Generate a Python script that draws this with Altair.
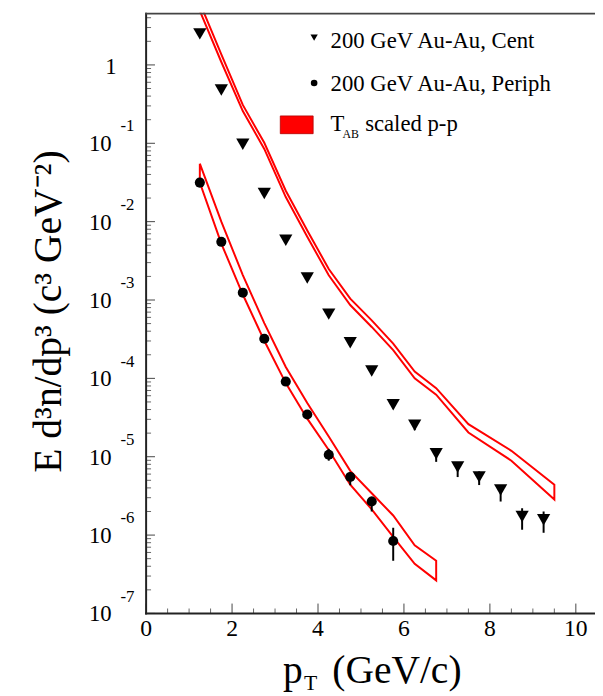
import altair as alt
import pandas as pd

# ---------------- data ----------------
cent_pt = [1.25, 1.75, 2.25, 2.75, 3.25, 3.75, 4.25, 4.75, 5.25, 5.75, 6.25, 6.75, 7.25, 7.75, 8.25, 8.75, 9.25]
cent_val = [2.49, 0.48, 0.0975, 0.0229, 5.8e-3, 1.91e-3, 6.6e-4, 2.85e-4, 1.24e-4, 4.6e-5, 2.52e-5, 1.09e-5, 7.4e-6, 5.53e-6, 3.75e-6, 1.73e-6, 1.57e-6]
cent_lo = [2.40, 0.463, 0.094, 0.0221, 5.55e-3, 1.82e-3, 6.2e-4, 2.65e-4, 1.14e-4, 4.15e-5, 2.18e-5, 8.6e-6, 5.5e-6, 4.35e-6, 2.68e-6, 1.17e-6, 1.07e-6]
cent_hi = [2.58, 0.497, 0.101, 0.0237, 6.05e-3, 2.0e-3, 7.0e-4, 3.05e-4, 1.34e-4, 5.05e-5, 2.91e-5, 1.2e-5, 8.55e-6, 6.5e-6, 4.33e-6, 2.2e-6, 2.0e-6]

per_pt = [1.25, 1.75, 2.25, 2.75, 3.25, 3.75, 4.25, 4.75, 5.25, 5.75]
per_val = [0.0315, 5.53e-3, 1.24e-3, 3.2e-4, 9.1e-5, 3.46e-5, 1.06e-5, 5.52e-6, 2.68e-6, 8.4e-7]
per_lo = [0.0303, 5.3e-3, 1.19e-3, 3.05e-4, 8.6e-5, 3.25e-5, 8.9e-6, 4.33e-6, 2.0e-6, 4.7e-7]
per_hi = [0.0327, 5.76e-3, 1.29e-3, 3.35e-4, 9.6e-5, 3.67e-5, 1.26e-5, 6.4e-6, 3.1e-6, 1.24e-6]

band_cent_pt = [1.25, 1.75, 2.25, 2.75, 3.25, 3.75, 4.25, 4.75, 5.25, 5.75, 6.25, 6.75, 7.5, 8.5, 9.5]
band_cent_hi = [6.2, 1.36, 0.309, 0.1014, 0.0248, 7.7e-3, 2.49e-3, 1.04e-3, 5.5e-4, 2.78e-4, 1.22e-4, 7.5e-5, 2.6e-5, 1.19e-5, 4.4e-6]
band_cent_lo = [4.9, 1.09, 0.258, 0.0847, 0.0206, 6.41e-3, 2.07e-3, 8.63e-4, 4.53e-4, 2.29e-4, 1.0e-4, 6.19e-5, 2.04e-5, 8.9e-6, 2.85e-6]

band_per_pt = [1.25, 1.75, 2.25, 2.75, 3.25, 3.75, 4.25, 4.75, 5.25, 5.75, 6.25, 6.75]
band_per_hi = [0.055, 0.0100, 2.08e-3, 5.07e-4, 1.40e-4, 4.84e-5, 1.81e-5, 6.6e-6, 3.42e-6, 1.78e-6, 7.4e-7, 4.7e-7]
band_per_lo = [0.0316, 5.25e-3, 1.175e-3, 3.02e-4, 8.7e-5, 3.06e-5, 1.22e-5, 4.4e-6, 2.13e-6, 9.5e-7, 4.3e-7, 2.64e-7]

y_major = [1e-7, 1e-6, 1e-5, 1e-4, 1e-3, 1e-2, 1e-1, 1.0]
y_major_base = ["10", "10", "10", "10", "10", "10", "10", "1"]
y_major_exp = ["-7", "-6", "-5", "-4", "-3", "-2", "-1", ""]
x_major = [0, 2, 4, 6, 8, 10]
x_major_text = ["0", "2", "4", "6", "8", "10"]

legend_labels = ["200 GeV Au-Au, Cent", "200 GeV Au-Au, Periph"]

# ---------------- layout constants ----------------
W, H = 453, 609
FONT = "Liberation Serif"
RED = "#ff0000"
FRAME = "#222222"

xsc = alt.Scale(domain=[0, 10.4], nice=False, zero=False)
ysc = alt.Scale(type="log", domain=[1e-7, 4.65], nice=False)


def polygon(pts, hi, lo):
    rows = []
    for p, v in zip(pts, hi):
        rows.append({"pt": p, "val": v, "idx": len(rows)})
    for p, v in zip(reversed(pts), reversed(lo)):
        rows.append({"pt": p, "val": v, "idx": len(rows)})
    rows.append({"pt": pts[0], "val": hi[0], "idx": len(rows)})
    return pd.DataFrame(rows)


def band_layer(df):
    return alt.Chart(df).mark_line(color=RED, strokeWidth=2, clip=True).encode(
        x=alt.X("pt:Q", scale=xsc, axis=None),
        y=alt.Y("val:Q", scale=ysc, axis=None),
        order=alt.Order("idx:Q"),
    )


band_c = band_layer(polygon(band_cent_pt, band_cent_hi, band_cent_lo))
band_p = band_layer(polygon(band_per_pt, band_per_hi, band_per_lo))

cent_df = pd.DataFrame({"pt": cent_pt, "val": cent_val, "lo": cent_lo, "hi": cent_hi})
per_df = pd.DataFrame({"pt": per_pt, "val": per_val, "lo": per_lo, "hi": per_hi})


def err_layer(df):
    return alt.Chart(df).mark_rule(color="black", strokeWidth=2).encode(
        x=alt.X("pt:Q", scale=xsc, axis=None),
        y=alt.Y("lo:Q", scale=ysc, axis=None),
        y2="hi:Q",
    )


cent_pts = alt.Chart(cent_df).mark_point(shape="triangle-down", filled=True, color="black", size=180, opacity=1).encode(
    x=alt.X("pt:Q", scale=xsc, axis=None),
    y=alt.Y("val:Q", scale=ysc, axis=None),
)
per_pts = alt.Chart(per_df).mark_point(shape="circle", filled=True, color="black", size=105, opacity=1).encode(
    x=alt.X("pt:Q", scale=xsc, axis=None),
    y=alt.Y("val:Q", scale=ysc, axis=None),
)

# ---------------- axes (ROOT-like, inward ticks) ----------------
y_minor = []
for d in y_major:
    for m in range(2, 10):
        v = d * m
        if v <= 4.65:
            y_minor.append(v)
x_minor = [k * 0.5 for k in range(1, 21) if (k * 0.5) not in x_major]

ytick_major = alt.Chart(pd.DataFrame({"t": y_major})).mark_rule(color="#444", strokeWidth=1).encode(
    y=alt.Y("t:Q", scale=ysc, axis=None), x=alt.value(0), x2=alt.value(9))
ytick_minor = alt.Chart(pd.DataFrame({"t": y_minor})).mark_rule(color="#666", strokeWidth=1).encode(
    y=alt.Y("t:Q", scale=ysc, axis=None), x=alt.value(0), x2=alt.value(5))
xtick_major = alt.Chart(pd.DataFrame({"t": x_major})).mark_rule(color="#444", strokeWidth=1).encode(
    x=alt.X("t:Q", scale=xsc, axis=None), y=alt.value(H), y2=alt.value(H - 10))
xtick_minor = alt.Chart(pd.DataFrame({"t": x_minor})).mark_rule(color="#666", strokeWidth=1).encode(
    x=alt.X("t:Q", scale=xsc, axis=None), y=alt.value(H), y2=alt.value(H - 5))

frame_left = alt.Chart(pd.DataFrame({"a": [0]})).mark_rule(color=FRAME, strokeWidth=2).encode(
    x=alt.value(0), y=alt.value(0), y2=alt.value(H + 1))
frame_bottom = alt.Chart(pd.DataFrame({"a": [0]})).mark_rule(color=FRAME, strokeWidth=2).encode(
    x=alt.value(-1), x2=alt.value(W + 4), y=alt.value(H))
frame_top = alt.Chart(pd.DataFrame({"a": [0]})).mark_rule(color="#444", strokeWidth=2).encode(
    x=alt.value(-1), x2=alt.value(W + 4), y=alt.value(1))

ylab_df = pd.DataFrame({"t": y_major, "base": y_major_base, "exp": y_major_exp})
ylab_10 = alt.Chart(ylab_df[ylab_df["base"] == "10"]).mark_text(
    font=FONT, fontSize=23, align="right", baseline="middle", dy=1, color="black").encode(
    y=alt.Y("t:Q", scale=ysc, axis=None), x=alt.value(-35), text="base:N")
ylab_1 = alt.Chart(ylab_df[ylab_df["base"] == "1"]).mark_text(
    font=FONT, fontSize=23, align="right", baseline="middle", dy=2, color="black").encode(
    y=alt.Y("t:Q", scale=ysc, axis=None), x=alt.value(-30), text="base:N")
ylab_exp = alt.Chart(ylab_df[ylab_df["exp"] != ""]).mark_text(
    font=FONT, fontSize=17, align="left", baseline="middle", dy=-17, color="black").encode(
    y=alt.Y("t:Q", scale=ysc, axis=None), x=alt.value(-26), text="exp:N")

xlab = alt.Chart(pd.DataFrame({"t": x_major, "s": x_major_text})).mark_text(
    font=FONT, fontSize=24, align="center", baseline="alphabetic", color="black").encode(
    x=alt.X("t:Q", scale=xsc, axis=None), y=alt.value(H + 23), text="s:N")

# ---------------- titles ----------------
def txt(s, x, y, size, align="left", baseline="alphabetic", angle=0):
    return alt.Chart(pd.DataFrame({"s": [s]})).mark_text(
        font=FONT, fontSize=size, align=align, baseline=baseline, angle=angle, color="black").encode(
        x=alt.value(x), y=alt.value(y), text="s:N")

ytitle = txt("E d\u00b3n/dp\u00b3 (c\u00b3 GeV\u207b\u00b2)", -86, 303, 40, align="center", angle=270)
xt_p = txt("p", 138.7, 680, 40)
xt_T = txt("T", 160, 687, 22)
xt_rest = txt("(GeV/c)", 188.7, 680, 40)

# ---------------- legend ----------------
leg_tri = alt.Chart(pd.DataFrame({"a": [0]})).mark_point(
    shape="triangle-down", filled=True, color="black", size=55, opacity=1).encode(
    x=alt.value(170.3), y=alt.value(25.3))
leg_circ = alt.Chart(pd.DataFrame({"a": [0]})).mark_point(
    shape="circle", filled=True, color="black", size=45, opacity=1).encode(
    x=alt.value(170.3), y=alt.value(71.3))
leg_rect = alt.Chart(pd.DataFrame({"a": [0]})).mark_rect(
    color=RED, stroke="#b00000", strokeWidth=0.8).encode(
    x=alt.value(136), x2=alt.value(169.3), y=alt.value(104.7), y2=alt.value(122.7))
leg_t1 = txt(legend_labels[0], 187, 36, 23)
leg_t2 = txt(legend_labels[1], 187, 79.3, 23)
leg_T = txt("T", 187, 120.3, 23)
leg_AB = txt("AB", 199, 127, 12)
leg_rest = txt("scaled p-p", 222, 120.3, 23)

chart = alt.layer(
    band_c, band_p,
    err_layer(cent_df), err_layer(per_df),
    cent_pts, per_pts,
    ytick_major, ytick_minor, xtick_major, xtick_minor,
    frame_left, frame_bottom, frame_top,
    ylab_10, ylab_1, ylab_exp, xlab,
    ytitle, xt_p, xt_T, xt_rest,
    leg_tri, leg_circ, leg_rect, leg_t1, leg_t2, leg_T, leg_AB, leg_rest,
).properties(
    width=W, height=H,
    padding={"left": 140, "top": 0, "right": 2, "bottom": 79},
    autosize=alt.AutoSizeParams(type="none"),
    background="white",
).configure_view(stroke=None)

chart.save("out.html", embed_options={"renderer": "svg", "actions": False})
